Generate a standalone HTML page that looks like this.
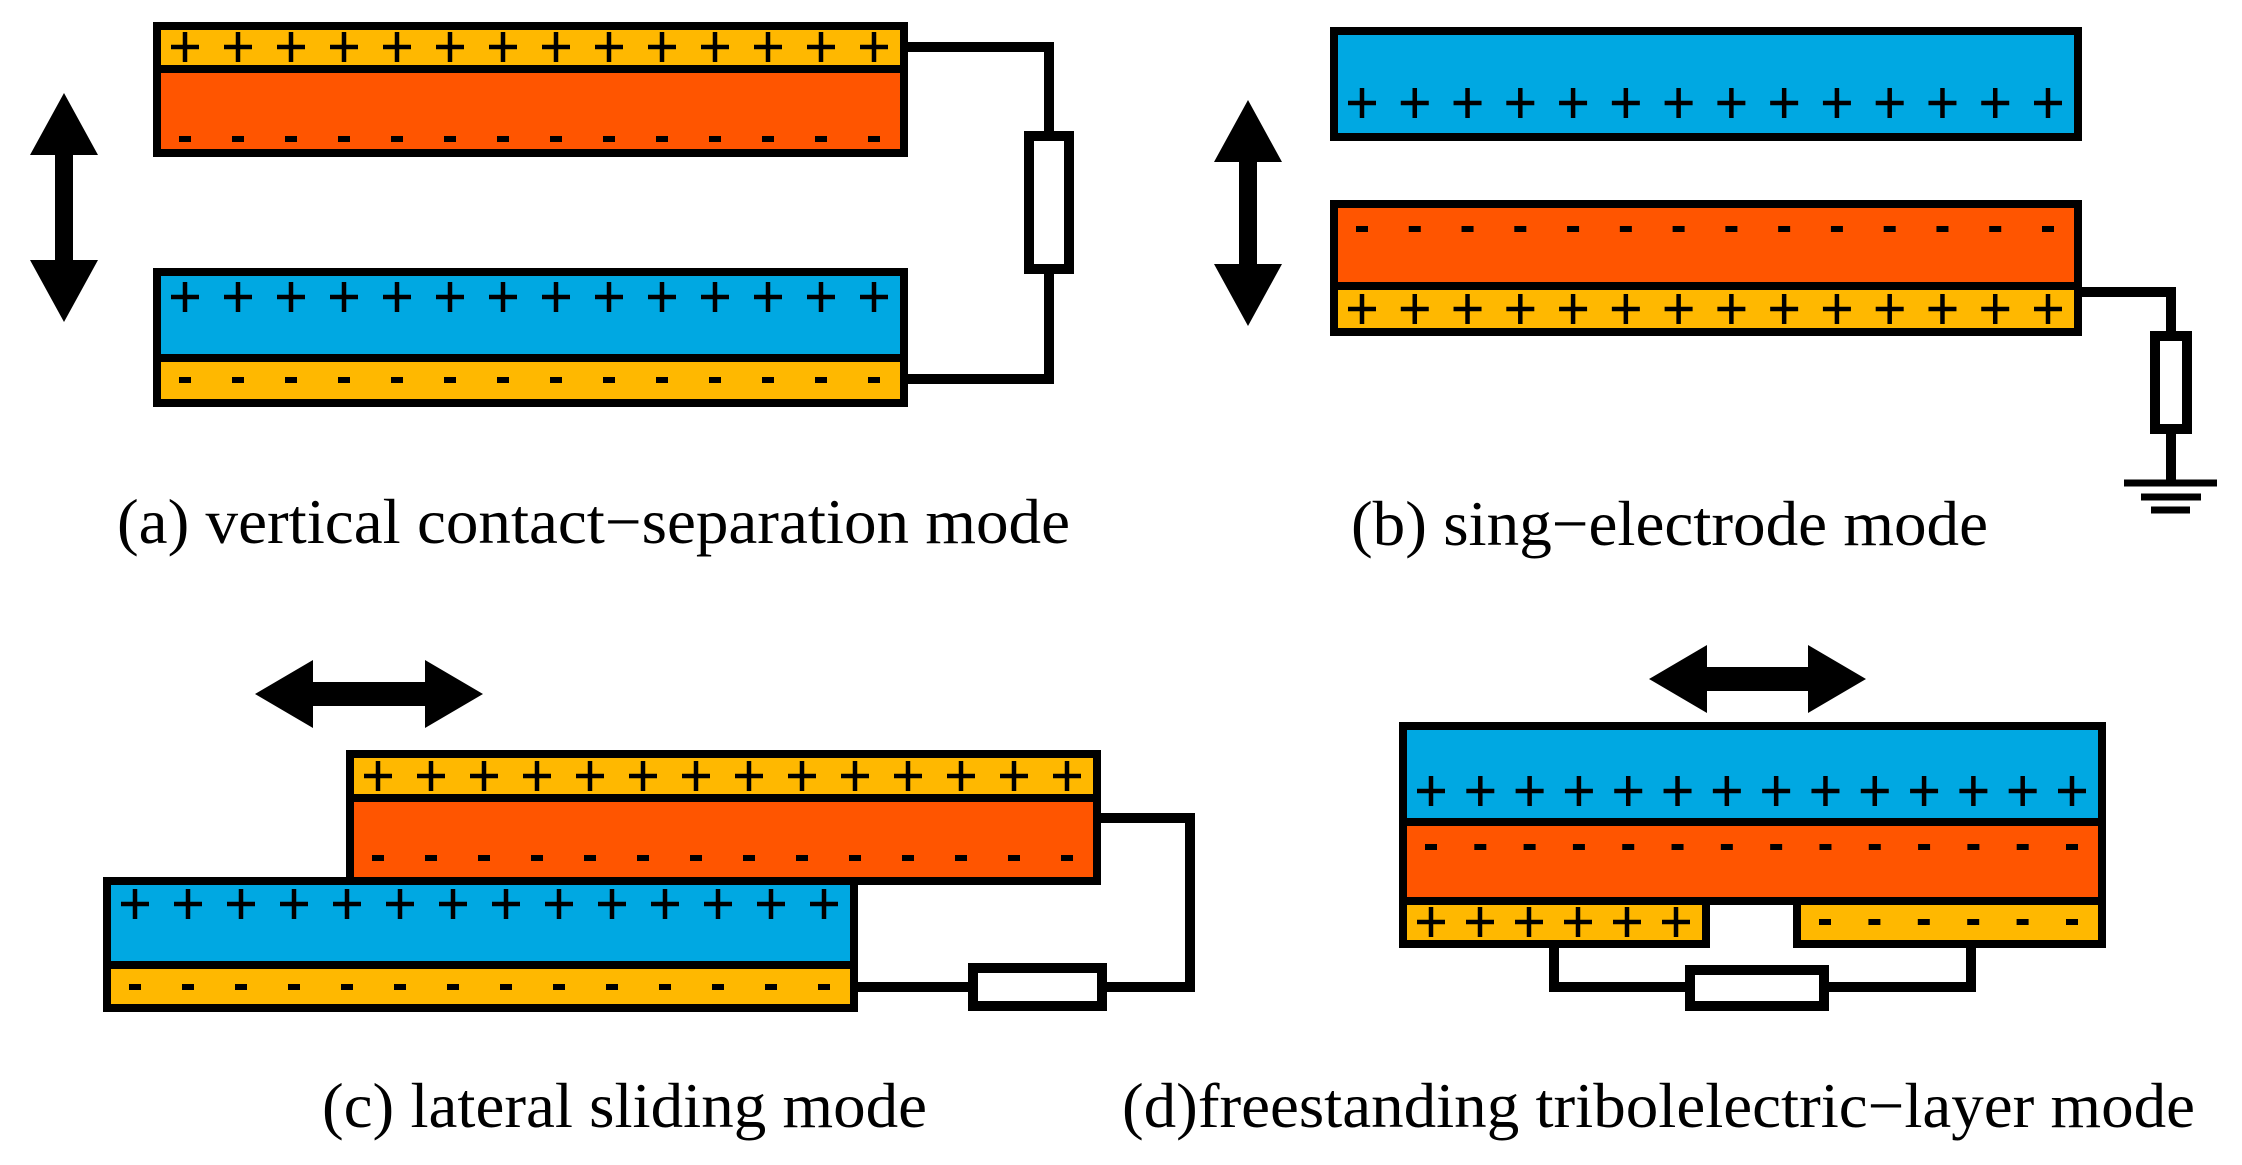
<!DOCTYPE html>
<html><head><meta charset="utf-8"><style>html,body{margin:0;padding:0;background:#fff}svg{display:block}</style></head>
<body>
<svg id="s" width="2242" height="1165" viewBox="0 0 2242 1165" xmlns="http://www.w3.org/2000/svg">
<g id="g" stroke="#000" stroke-width="8" stroke-linejoin="miter"></g>
<g font-family="Liberation Serif, serif" font-size="64" fill="#000">
<text x="117" y="543" textLength="953" lengthAdjust="spacingAndGlyphs">(a) vertical contact−separation mode</text>
<text x="1351" y="545" textLength="637" lengthAdjust="spacingAndGlyphs">(b) sing−electrode mode</text>
<text x="322" y="1127" textLength="605" lengthAdjust="spacingAndGlyphs">(c) lateral sliding mode</text>
<text x="1122" y="1127" textLength="1073" lengthAdjust="spacingAndGlyphs">(d)freestanding tribolelectric−layer mode</text>
</g>
</svg>
<script>
const Y="#FFB800",O="#FF5500",B="#00A8E2";
const g=document.getElementById('g');let h='';
function R(x1,y1,x2,y2,f,w){h+=`<rect x="${x1}" y="${y1}" width="${x2-x1}" height="${y2-y1}" fill="${f}"${w?` stroke-width="${w}"`:''}/>`;}
function row(x1,x2,y,n,t){const a=x1+28,b=x2-30;for(let i=0;i<n;i++){const c=n>1?a+(b-a)*i/(n-1):a;
 if(t=='+')h+=`<path d="M${c-14} ${y}H${c+14}M${c} ${y-15}V${y+15}" stroke-width="4.5" fill="none"/>`;
 else h+=`<path d="M${c-6} ${y}H${c+6}" stroke-width="6" fill="none"/>`;}}
function L(d){h+=`<path d="${d}" fill="none" stroke-width="10"/>`;}
function V(cx,y1,y2){const hw=34,hl=62,sw=9;h+=`<path d="M${cx} ${y1}L${cx+hw} ${y1+hl}H${cx+sw}V${y2-hl}H${cx+hw}L${cx} ${y2}L${cx-hw} ${y2-hl}H${cx-sw}V${y1+hl}H${cx-hw}Z" fill="#000" stroke="none"/>`;}
function H(x1,x2,cy){const hw=34,hl=58,sw=12;h+=`<path d="M${x1} ${cy}L${x1+hl} ${cy-hw}V${cy-sw}H${x2-hl}V${cy-hw}L${x2} ${cy}L${x2-hl} ${cy+hw}V${cy+sw}H${x1+hl}V${cy+hw}Z" fill="#000" stroke="none"/>`;}
// (a)
R(157,26,904,69,Y);R(157,69,904,153,O);R(157,272,904,358,B);R(157,358,904,403,Y);
row(157,904,47,14,'+');row(157,904,139,14,'-');row(157,904,297,14,'+');row(157,904,380,14,'-');
L("M904 47H1049V379H904");R(1029,136,1069,269,"#fff",10);V(64,93,322);
// (b)
R(1334,31,2078,137,B);R(1334,204,2078,286,O);R(1334,286,2078,332,Y);
row(1334,2078,103,14,'+');row(1334,2078,229,14,'-');row(1334,2078,309,14,'+');
L("M2078 292H2171V483");R(2155,336,2187,429,"#fff",10);
h+=`<path d="M2124 483H2217M2141 497H2201M2151 510H2190" fill="none" stroke-width="7"/>`;V(1248,100,326);
// (c)
H(255,483,694);
R(350,754,1097,798,Y);R(350,798,1097,881,O);row(350,1097,776,14,'+');row(350,1097,858,14,'-');
R(107,881,854,965,B);R(107,965,854,1008,Y);row(107,854,904,14,'+');row(107,854,987,14,'-');
L("M1097 818H1190V987H1104M970 987H854");R(973,968,1102,1006,"#fff",10);
// (d)
H(1649,1866,679);
R(1403,726,2102,822,B);R(1403,822,2102,901,O);R(1403,901,1706,944,Y);R(1797,901,2102,944,Y);
row(1403,2102,791,14,'+');row(1403,2102,847,14,'-');
row(1403,1706,922,6,'+');row(1797,2102,922,6,'-');
L("M1554 944V987H1689M1825 987H1971V944");R(1690,970,1824,1006,"#fff",10);
g.innerHTML=h;
</script>
</body></html>
